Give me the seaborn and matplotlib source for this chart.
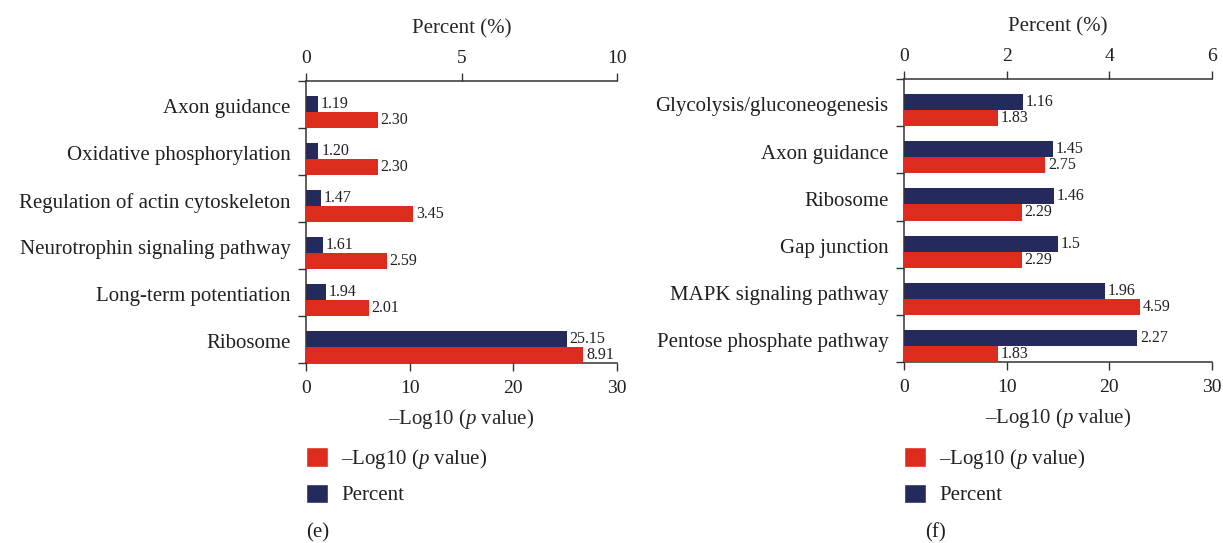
import numpy as np
import pandas as pd
import matplotlib
matplotlib.use('Agg')
import matplotlib.pyplot as plt
from matplotlib.patches import Patch
import seaborn as sns

# Panel (e) data, top to bottom
e_terms = ['Axon guidance', 'Oxidative phosphorylation', 'Regulation of actin cytoskeleton',
           'Neurotrophin signaling pathway', 'Long-term potentiation', 'Ribosome']
e_navy = [1.19, 1.20, 1.47, 1.61, 1.94, 25.15]   # navy bars, read against the bottom axis
e_red = [2.30, 2.30, 3.45, 2.59, 2.01, 8.91]     # red bars, read against the top axis
e_navy_labels = ['1.19', '1.20', '1.47', '1.61', '1.94', '25.15']
e_red_labels = ['2.30', '2.30', '3.45', '2.59', '2.01', '8.91']

# Panel (f) data, top to bottom
f_terms = ['Glycolysis/gluconeogenesis', 'Axon guidance', 'Ribosome', 'Gap junction',
           'MAPK signaling pathway', 'Pentose phosphate pathway']
f_navy = [1.16, 1.45, 1.46, 1.5, 1.96, 2.27]     # navy bars are drawn x10 on the bottom axis in (f)
f_red = [1.83, 2.75, 2.29, 2.29, 4.59, 1.83]
f_navy_labels = ['1.16', '1.45', '1.46', '1.5', '1.96', '2.27']
f_red_labels = ['1.83', '2.75', '2.29', '2.29', '4.59', '1.83']

bottom_ticks = [0, 10, 20, 30]
e_top_ticks = [0, 5, 10]
f_top_ticks = [0, 2, 4, 6]

RED = '#dd2b1d'
NAVY = '#242a5b'
INK = '#231f20'
SPINE = '#333333'
LOGP = '\u2013Log10 ($p$ value)'

sns.set_theme(style='ticks')
plt.rcParams['font.family'] = ['Liberation Serif', 'DejaVu Serif']
plt.rcParams['mathtext.fontset'] = 'custom'
plt.rcParams['mathtext.rm'] = 'Liberation Serif'
plt.rcParams['mathtext.it'] = 'Liberation Serif:italic'
plt.rcParams['text.color'] = INK
plt.rcParams['xtick.color'] = SPINE
plt.rcParams['ytick.color'] = SPINE
plt.rcParams['xtick.labelcolor'] = INK
plt.rcParams['ytick.labelcolor'] = INK

fig = plt.figure(figsize=(12.23, 5.43), dpi=100)
W, H = 1223, 543


def draw_panel(px, terms, navy, red, navy_lab, red_lab, navy_scale, top_ticks, tag, tag_x):
    x0, x1, y0, y1 = px
    ax = fig.add_axes([x0 / W, 1 - y1 / H, (x1 - x0) / W, (y1 - y0) / H])
    ax_top = ax.twiny()
    pos = np.arange(len(terms))

    navy_df = pd.DataFrame({'pos': pos - 0.01, 'val': np.array(navy) * navy_scale})
    red_df = pd.DataFrame({'pos': pos + 0.33, 'val': red})
    sns.barplot(data=navy_df, x='val', y='pos', orient='h', native_scale=True,
                width=0.34, color=NAVY, saturation=1, linewidth=0, errorbar=None, ax=ax)
    sns.barplot(data=red_df, x='val', y='pos', orient='h', native_scale=True,
                width=0.34, color=RED, saturation=1, linewidth=0, errorbar=None, ax=ax_top)

    ax.bar_label(ax.containers[0], labels=navy_lab, padding=2, fontsize=11.5, color=INK)
    ax_top.bar_label(ax_top.containers[0], labels=red_lab, padding=2, fontsize=11.5, color=INK)

    # bottom axis
    ax.set_xlim(0, bottom_ticks[-1])
    ax.set_xticks(bottom_ticks)
    ax.set_xlabel(LOGP, fontsize=15, labelpad=7.5)
    ax.tick_params(axis='x', length=5.5, width=1, pad=6.5, labelsize=14)

    # top axis
    ax_top.set_xlim(0, top_ticks[-1])
    ax_top.set_xticks(top_ticks)
    ax_top.set_xlabel('Percent (%)', fontsize=15, labelpad=12)
    ax_top.tick_params(axis='x', length=5.5, width=1, pad=4.5, labelsize=14)

    # category axis
    ax.set_ylim(len(terms) - 0.5, -0.5)
    ax.set_yticks(pos + 0.04)
    ax.set_yticklabels(terms)
    ax.set_ylabel('')
    ax.set_yticks(np.arange(len(terms) + 1) - 0.5, minor=True)
    ax.tick_params(axis='y', which='major', length=0, pad=11, labelsize=15)
    ax.tick_params(axis='y', which='minor', length=6, width=1, direction='out')

    for name in ['right', 'top']:
        ax.spines[name].set_visible(False)
    for name in ['left', 'right', 'bottom']:
        ax_top.spines[name].set_visible(False)
    for sp in [ax.spines['left'], ax.spines['bottom'], ax_top.spines['top']]:
        sp.set_color(SPINE)
        sp.set_linewidth(1.1)

    handles = [Patch(facecolor=RED, label=LOGP), Patch(facecolor=NAVY, label='Percent')]
    fig.legend(handles=handles, loc='upper left', bbox_to_anchor=(x0 / W, 1 - 447 / H),
               frameon=False, borderpad=0, borderaxespad=0, handlelength=1.06,
               handleheight=1.06, handletextpad=0.62, labelspacing=0.6, fontsize=15)
    fig.text(tag_x / W, 1 - 533 / H, tag, ha='center', va='center', fontsize=15)


draw_panel((306, 617, 81, 363), e_terms, e_navy, e_red, e_navy_labels, e_red_labels,
           1, e_top_ticks, '(e)', 318)
draw_panel((904, 1212, 79, 362), f_terms, f_navy, f_red, f_navy_labels, f_red_labels,
           10, f_top_ticks, '(f)', 936)

fig.savefig('out.png', dpi=100)
